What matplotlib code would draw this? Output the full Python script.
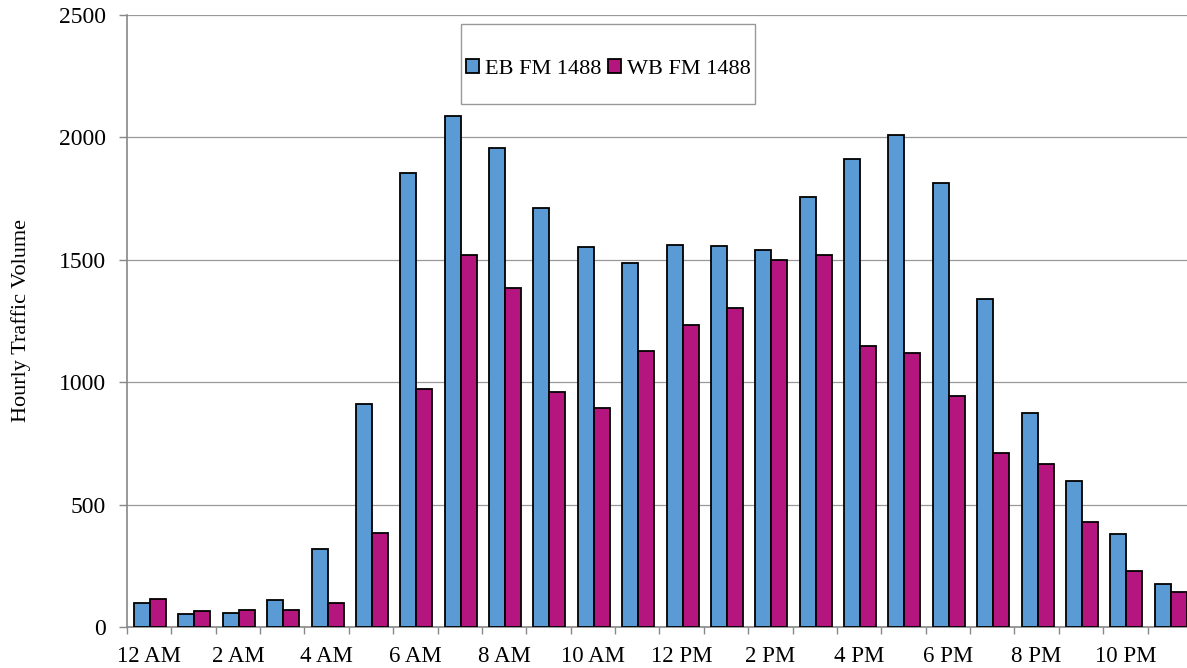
import matplotlib.pyplot as plt
from matplotlib.patches import Rectangle, Patch
from matplotlib.ticker import MultipleLocator, FixedLocator
import numpy as np

plt.rcParams['font.family'] = ['Liberation Serif', 'DejaVu Serif']

hours = ['12 AM', '1 AM', '2 AM', '3 AM', '4 AM', '5 AM', '6 AM', '7 AM',
         '8 AM', '9 AM', '10 AM', '11 AM', '12 PM', '1 PM', '2 PM', '3 PM',
         '4 PM', '5 PM', '6 PM', '7 PM', '8 PM', '9 PM', '10 PM', '11 PM']
eb_volume = [96, 52, 58, 110, 317, 910, 1853, 2087, 1955, 1712, 1553, 1487,
             1562, 1557, 1538, 1758, 1913, 2009, 1815, 1341, 875, 596, 378, 174]
wb_volume = [115, 64, 70, 70, 99, 384, 971, 1520, 1384, 962, 894, 1128,
             1233, 1304, 1501, 1520, 1149, 1121, 943, 711, 664, 429, 228, 141]

eb_color = '#5b9bd5'
wb_color = '#b4157f'

fig = plt.figure(figsize=(11.87, 6.68), dpi=100)
# plot area runs a little past the right edge of the picture, as in the original
ax = fig.add_axes([127 / 1187, 1 - 627 / 668, 1065 / 1187, 612 / 668])

x = np.arange(len(hours))
w = 0.36
ax.bar(x - w / 2 + 0.02, eb_volume, w, color=eb_color, edgecolor='black',
       linewidth=1.3, zorder=3, label='EB FM 1488')
ax.bar(x + w / 2 + 0.02, wb_volume, w, color=wb_color, edgecolor='black',
       linewidth=1.3, zorder=3, label='WB FM 1488')

ax.set_xlim(-0.5, len(hours) - 0.5)
ax.set_ylim(0, 2500)
ax.yaxis.set_major_locator(MultipleLocator(500))
ax.yaxis.grid(True, color='#999999', linewidth=0.9, zorder=0)

ax.set_xticks(x)
ax.set_xticklabels([h if i % 2 == 0 else '' for i, h in enumerate(hours)])
ax.tick_params(axis='x', which='major', length=0, pad=14, labelsize=16.5)
ax.xaxis.set_minor_locator(FixedLocator(np.arange(-0.5, len(hours), 1.0)))
ax.tick_params(axis='x', which='minor', length=5, color='#888888', width=1)
ax.tick_params(axis='y', length=6, color='#888888', width=1, labelsize=17, pad=9)

for side in ['top', 'right']:
    ax.spines[side].set_visible(False)
ax.spines['left'].set_color('#888888')
ax.spines['bottom'].set_color('#888888')
ax.spines['left'].set_linewidth(1.2)
ax.spines['bottom'].set_linewidth(1.2)

ax.set_ylabel('Hourly Traffic Volume', fontsize=16, labelpad=20)

# legend box drawn as in the original (tall frame, entries near the middle)
frame = Rectangle((461 / 1187, 1 - 104 / 668), 294 / 1187, 80 / 668,
                  transform=fig.transFigure, facecolor='white',
                  edgecolor='#999999', linewidth=1, zorder=4)
fig.patches.append(frame)
handles = [Patch(facecolor=eb_color, edgecolor='black', linewidth=1.3),
           Patch(facecolor=wb_color, edgecolor='black', linewidth=1.3)]
fig.legend(handles, ['EB FM 1488', 'WB FM 1488'], loc='center',
           bbox_to_anchor=(608 / 1187, 1 - 69 / 668), ncol=2, frameon=False,
           fontsize=16, handlelength=0.6, handleheight=0.6, handletextpad=0.25,
           columnspacing=0.3, borderpad=0)

fig.savefig('out.png', dpi=100, facecolor='white')
